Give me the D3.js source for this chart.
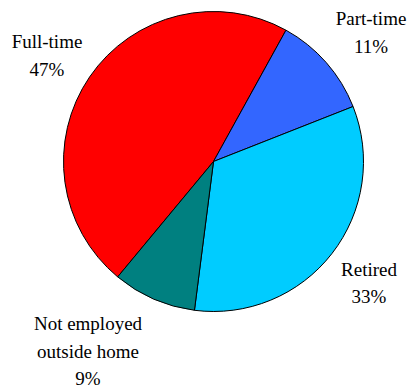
<!DOCTYPE html>
<html>
<head>
<meta charset="utf-8">
<script src="https://cdn.jsdelivr.net/npm/d3@7"></script>
<style>
  html, body { margin: 0; padding: 0; background: #fff; }
  svg { display: block; }
  svg text { font-family: "Liberation Serif", serif !important; }
</style>
</head>
<body>
<svg id="chart" width="411" height="390"></svg>
<script>
// Employment status shares (percent)
const categories = ["Full-time", "Part-time", "Retired", "Not employed outside home"];
const values = [47, 11, 33, 9];
const colors = ["#FF0000", "#3366FF", "#00CCFF", "#008080"];
// Label lines for each slice
const labelLines = [
  ["Full-time", "47%"],
  ["Part-time", "11%"],
  ["Retired", "33%"],
  ["Not employed", "outside home", "9%"]
];
// Label anchor (center x, first baseline y) for each slice
const labelPos = [[47, 48], [371, 25], [369, 275.5], [88, 330]];

const svg = d3.select("#chart");
const cx = 213.5, cy = 161.5, r = 150;
const start = -140.3 * Math.PI / 180;

const pie = d3.pie().sort(null).value(d => d.value)
  .startAngle(start).endAngle(start + 2 * Math.PI);
const arc = d3.arc().innerRadius(0).outerRadius(r);

const data = categories.map((c, i) => ({ name: c, value: values[i], color: colors[i] }));

const g = svg.append("g").attr("transform", `translate(${cx},${cy})`);
g.selectAll("path")
  .data(pie(data))
  .join("path")
  .attr("d", arc)
  .attr("fill", d => d.data.color)
  .attr("stroke", "#000")
  .attr("stroke-width", 1)
  .attr("stroke-linejoin", "round");

// One text element per label line
const lines = [];
labelLines.forEach((ls, i) => ls.forEach((line, j) => lines.push({
  text: line, x: labelPos[i][0], y: labelPos[i][1] + j * 27.7
})));

svg.selectAll("text")
  .data(lines)
  .join("text")
  .style("font-family", "'Liberation Serif', serif")
  .style("font-size", "19px")
  .attr("fill", "#000")
  .attr("text-anchor", "middle")
  .attr("x", d => d.x)
  .attr("y", d => d.y)
  .text(d => d.text);
</script>
</body>
</html>
